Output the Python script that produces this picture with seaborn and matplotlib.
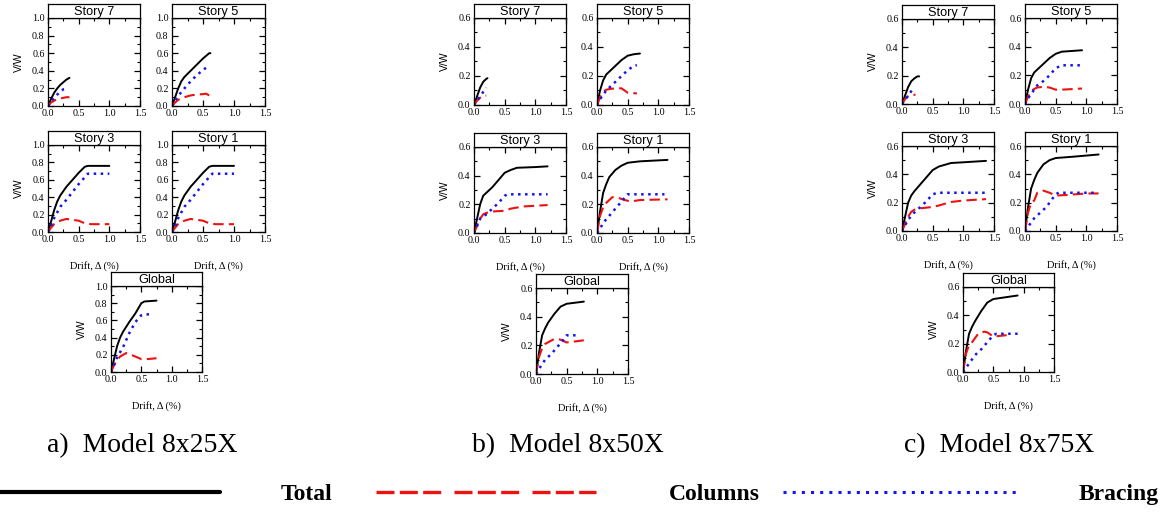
import numpy as np
import pandas as pd
import seaborn as sns
import matplotlib.pyplot as plt
from matplotlib.lines import Line2D
from matplotlib.ticker import MultipleLocator

# ---------------- data: (drift %, V/W) pairs for each response curve ----------------
# Model 8x25X
A7_TOTAL = [(0, 0), (0.05, 0.08), (0.1, 0.15), (0.15, 0.2), (0.2, 0.24), (0.25, 0.27), (0.3, 0.3), (0.35, 0.32)]
A7_COLS = [(0, 0), (0.05, 0.04), (0.1, 0.06), (0.15, 0.08), (0.2, 0.085), (0.3, 0.1), (0.35, 0.1)]
A7_BRAC = [(0, 0), (0.05, 0.05), (0.1, 0.09), (0.15, 0.13), (0.2, 0.16), (0.25, 0.19), (0.3, 0.2)]

A5_TOTAL = [(0, 0), (0.05, 0.1), (0.1, 0.2), (0.15, 0.28), (0.2, 0.33), (0.3, 0.4), (0.4, 0.47), (0.5, 0.54), (0.6, 0.6), (0.62, 0.6)]
A5_COLS = [(0, 0), (0.05, 0.04), (0.1, 0.07), (0.2, 0.1), (0.3, 0.12), (0.4, 0.13), (0.5, 0.135), (0.55, 0.14), (0.6, 0.12)]
A5_BRAC = [(0, 0), (0.05, 0.06), (0.1, 0.11), (0.15, 0.16), (0.2, 0.2), (0.3, 0.28), (0.4, 0.35), (0.5, 0.41), (0.6, 0.46)]

A3_TOTAL = [(0, 0), (0.05, 0.12), (0.1, 0.25), (0.15, 0.35), (0.2, 0.42), (0.3, 0.52), (0.4, 0.6), (0.5, 0.68), (0.6, 0.75), (0.65, 0.76), (1.0, 0.76)]
A3_COLS = [(0, 0), (0.05, 0.05), (0.1, 0.09), (0.2, 0.13), (0.3, 0.15), (0.4, 0.14), (0.5, 0.13), (0.6, 0.1), (0.7, 0.09), (1.0, 0.09)]
A3_BRAC = [(0, 0), (0.05, 0.07), (0.1, 0.16), (0.2, 0.29), (0.3, 0.37), (0.4, 0.46), (0.5, 0.55), (0.6, 0.63), (0.65, 0.67), (1.0, 0.67)]

A1_TOTAL = [(0, 0), (0.05, 0.12), (0.1, 0.25), (0.15, 0.35), (0.2, 0.42), (0.3, 0.52), (0.4, 0.6), (0.5, 0.68), (0.6, 0.75), (0.65, 0.76), (1.0, 0.76)]
A1_COLS = [(0, 0), (0.05, 0.05), (0.1, 0.09), (0.2, 0.13), (0.3, 0.15), (0.4, 0.14), (0.5, 0.13), (0.6, 0.1), (0.7, 0.09), (1.0, 0.09)]
A1_BRAC = [(0, 0), (0.05, 0.07), (0.1, 0.16), (0.2, 0.29), (0.3, 0.37), (0.4, 0.46), (0.5, 0.55), (0.6, 0.63), (0.65, 0.67), (1.0, 0.67)]

AG_TOTAL = [(0, 0), (0.05, 0.15), (0.1, 0.3), (0.15, 0.4), (0.2, 0.47), (0.3, 0.58), (0.4, 0.68), (0.5, 0.8), (0.55, 0.82), (0.75, 0.83)]
AG_COLS = [(0, 0), (0.05, 0.08), (0.1, 0.14), (0.15, 0.18), (0.2, 0.2), (0.25, 0.22), (0.3, 0.21), (0.4, 0.18), (0.5, 0.15), (0.6, 0.15), (0.75, 0.16)]
AG_BRAC = [(0, 0), (0.05, 0.08), (0.1, 0.17), (0.2, 0.29), (0.3, 0.45), (0.4, 0.58), (0.5, 0.66), (0.55, 0.67), (0.7, 0.67)]

# Model 8x50X
B7_TOTAL = [(0, 0), (0.05, 0.06), (0.1, 0.12), (0.15, 0.16), (0.2, 0.18), (0.22, 0.185)]
B7_COLS = [(0, 0), (0.05, 0.03), (0.1, 0.05), (0.15, 0.065), (0.2, 0.065)]
B7_BRAC = [(0, 0), (0.05, 0.03), (0.1, 0.06), (0.15, 0.09), (0.2, 0.12)]

B5_TOTAL = [(0, 0), (0.05, 0.1), (0.1, 0.17), (0.15, 0.21), (0.2, 0.23), (0.3, 0.27), (0.4, 0.31), (0.5, 0.34), (0.6, 0.35), (0.7, 0.355)]
B5_COLS = [(0, 0), (0.05, 0.05), (0.1, 0.09), (0.15, 0.105), (0.2, 0.11), (0.3, 0.115), (0.4, 0.115), (0.5, 0.085), (0.65, 0.08)]
B5_BRAC = [(0, 0), (0.05, 0.04), (0.1, 0.07), (0.15, 0.1), (0.2, 0.12), (0.3, 0.16), (0.4, 0.2), (0.5, 0.24), (0.6, 0.27), (0.65, 0.275)]

B3_TOTAL = [(0, 0), (0.05, 0.1), (0.1, 0.2), (0.15, 0.26), (0.2, 0.28), (0.3, 0.32), (0.4, 0.37), (0.5, 0.42), (0.6, 0.44), (0.7, 0.455), (1.0, 0.46), (1.2, 0.465)]
B3_COLS = [(0, 0), (0.05, 0.05), (0.1, 0.1), (0.15, 0.13), (0.2, 0.14), (0.3, 0.15), (0.5, 0.155), (0.6, 0.17), (0.8, 0.185), (1.0, 0.19), (1.2, 0.195)]
B3_BRAC = [(0, 0), (0.05, 0.05), (0.1, 0.1), (0.2, 0.13), (0.3, 0.17), (0.4, 0.21), (0.5, 0.26), (0.55, 0.27), (1.2, 0.27)]

B1_TOTAL = [(0, 0), (0.05, 0.15), (0.1, 0.28), (0.15, 0.34), (0.2, 0.39), (0.3, 0.44), (0.4, 0.47), (0.5, 0.49), (0.7, 0.5), (1.15, 0.51)]
B1_COLS = [(0, 0), (0.05, 0.12), (0.1, 0.18), (0.15, 0.21), (0.25, 0.25), (0.35, 0.245), (0.45, 0.23), (0.55, 0.22), (0.7, 0.23), (1.15, 0.235)]
B1_BRAC = [(0, 0), (0.05, 0.03), (0.1, 0.07), (0.2, 0.12), (0.3, 0.17), (0.4, 0.22), (0.5, 0.27), (1.1, 0.27)]

BG_TOTAL = [(0, 0), (0.05, 0.15), (0.1, 0.27), (0.15, 0.32), (0.2, 0.36), (0.3, 0.42), (0.4, 0.47), (0.5, 0.49), (0.78, 0.505)]
BG_COLS = [(0, 0), (0.05, 0.12), (0.1, 0.18), (0.15, 0.21), (0.3, 0.245), (0.4, 0.24), (0.5, 0.22), (0.78, 0.235)]
BG_BRAC = [(0, 0), (0.05, 0.035), (0.1, 0.07), (0.15, 0.1), (0.25, 0.14), (0.35, 0.19), (0.45, 0.24), (0.5, 0.27), (0.7, 0.27)]

# Model 8x75X
C7_TOTAL = [(0, 0), (0.05, 0.06), (0.1, 0.12), (0.15, 0.16), (0.2, 0.18), (0.25, 0.195), (0.28, 0.195)]
C7_COLS = [(0, 0), (0.05, 0.035), (0.1, 0.055), (0.15, 0.065), (0.22, 0.065)]
C7_BRAC = [(0, 0), (0.05, 0.03), (0.1, 0.06), (0.15, 0.09), (0.2, 0.12)]

C5_TOTAL = [(0, 0), (0.05, 0.1), (0.1, 0.18), (0.15, 0.22), (0.2, 0.24), (0.3, 0.28), (0.4, 0.32), (0.5, 0.35), (0.6, 0.365), (0.93, 0.375)]
C5_COLS = [(0, 0), (0.05, 0.05), (0.1, 0.09), (0.15, 0.105), (0.2, 0.115), (0.3, 0.12), (0.4, 0.115), (0.5, 0.1), (0.6, 0.1), (0.93, 0.108)]
C5_BRAC = [(0, 0), (0.05, 0.04), (0.1, 0.07), (0.15, 0.1), (0.2, 0.13), (0.3, 0.16), (0.4, 0.2), (0.5, 0.25), (0.6, 0.27), (0.93, 0.27)]

C3_TOTAL = [(0, 0), (0.05, 0.1), (0.1, 0.2), (0.15, 0.25), (0.2, 0.28), (0.3, 0.33), (0.4, 0.38), (0.5, 0.43), (0.6, 0.455), (0.8, 0.48), (1.0, 0.485), (1.37, 0.495)]
C3_COLS = [(0, 0), (0.05, 0.05), (0.1, 0.1), (0.15, 0.135), (0.2, 0.15), (0.3, 0.16), (0.5, 0.17), (0.6, 0.18), (0.8, 0.205), (1.0, 0.215), (1.37, 0.225)]
C3_BRAC = [(0, 0), (0.05, 0.04), (0.1, 0.08), (0.2, 0.13), (0.3, 0.17), (0.4, 0.21), (0.5, 0.26), (0.6, 0.27), (1.35, 0.27)]

C1_TOTAL = [(0, 0), (0.05, 0.17), (0.1, 0.3), (0.15, 0.36), (0.2, 0.41), (0.3, 0.47), (0.4, 0.5), (0.5, 0.515), (0.8, 0.525), (1.2, 0.54)]
C1_COLS = [(0, 0), (0.05, 0.13), (0.1, 0.2), (0.15, 0.215), (0.2, 0.27), (0.3, 0.285), (0.4, 0.27), (0.5, 0.25), (0.7, 0.255), (1.0, 0.265), (1.2, 0.265)]
C1_BRAC = [(0, 0), (0.05, 0.03), (0.1, 0.06), (0.15, 0.09), (0.25, 0.13), (0.35, 0.17), (0.45, 0.23), (0.5, 0.26), (0.55, 0.27), (1.15, 0.27)]

CG_TOTAL = [(0, 0), (0.05, 0.15), (0.1, 0.27), (0.15, 0.32), (0.2, 0.36), (0.3, 0.43), (0.4, 0.49), (0.5, 0.515), (0.9, 0.54)]
CG_COLS = [(0, 0), (0.05, 0.13), (0.1, 0.19), (0.15, 0.21), (0.25, 0.27), (0.35, 0.285), (0.4, 0.28), (0.5, 0.25), (0.72, 0.26)]
CG_BRAC = [(0, 0), (0.05, 0.03), (0.1, 0.06), (0.15, 0.09), (0.2, 0.12), (0.3, 0.16), (0.4, 0.21), (0.5, 0.26), (0.55, 0.27), (0.9, 0.27)]

CAPTIONS = ["a)  Model 8x25X", "b)  Model 8x50X", "c)  Model 8x75X"]
SERIES_NAMES = ["Total", "Columns", "Bracing"]
X_LABEL = "Drift, \u0394 (%)"
Y_LABEL = "V/W"

# ---------------- styling ----------------
sns.set_theme(style="ticks")
plt.rcParams["font.family"] = ["Liberation Serif", "DejaVu Serif"]
plt.rcParams.update({
    "axes.linewidth": 0.9,
    "text.color": "black",
    "axes.labelcolor": "black",
    "xtick.color": "black",
    "ytick.color": "black",
    "axes.edgecolor": "black",
})

W, H = 1167, 514
fig = plt.figure(figsize=(W / 100, H / 100), dpi=100)
fig.patch.set_facecolor("white")

STYLES = {
    "Total": dict(color="black", lw=1.4, linestyle="-"),
    "Columns": dict(color="#ee1111", lw=1.5, linestyle=(0, (5, 2.5))),
    "Bracing": dict(color="#1515ee", lw=1.8, linestyle=(0, (1, 1.8))),
}
STRIP = 14  # height of the title strip, px


def panel(box, title, ymax, curves, xlabel, ylabel):
    l, t, r, b = box
    ax = fig.add_axes([l / W, 1 - b / H, (r - l) / W, (b - t) / H])
    for name, pts in zip(SERIES_NAMES, curves):
        df = pd.DataFrame(pts, columns=["drift", "vw"])
        sns.lineplot(data=df, x="drift", y="vw", ax=ax, sort=False,
                     estimator=None, legend=False, **STYLES[name])
    ax.set_xlim(0, 1.5)
    ax.set_ylim(0, ymax)
    ax.xaxis.set_major_locator(MultipleLocator(0.5))
    ax.xaxis.set_minor_locator(MultipleLocator(0.25))
    ax.yaxis.set_major_locator(MultipleLocator(0.2))
    ax.yaxis.set_minor_locator(MultipleLocator(0.1))
    ax.tick_params(which="both", direction="in", top=True, right=True,
                   labelsize=7.2, pad=2.5, color="black", labelcolor="black")
    ax.tick_params(which="major", length=4, width=0.9)
    ax.tick_params(which="minor", length=2.5, width=0.8)
    for lab in ax.get_xticklabels() + ax.get_yticklabels():
        lab.set_family("Liberation Serif")
    ax.set_xlabel(xlabel, fontsize=7.5, labelpad=12, family="Liberation Serif")
    ax.set_ylabel(ylabel, fontsize=7.5, labelpad=6, family="Liberation Sans")
    for s in ax.spines.values():
        s.set_color("black")

    sax = fig.add_axes([l / W, 1 - t / H, (r - l) / W, STRIP / H])
    sax.set_xticks([])
    sax.set_yticks([])
    for s in sax.spines.values():
        s.set_color("black")
        s.set_linewidth(0.9)
    sax.text(0.5, 0.45, title, ha="center", va="center", fontsize=9.2,
             family="Liberation Sans", transform=sax.transAxes)
    return ax


MODELS = [
    dict(ymax=1.0, caption=CAPTIONS[0], cap_x=47,
         boxes=[(48, 18, 140, 106), (172, 18, 265, 106), (48, 145, 140, 232), (172, 145, 265, 232), (111, 286, 202, 372)],
         curves=[(A7_TOTAL, A7_COLS, A7_BRAC), (A5_TOTAL, A5_COLS, A5_BRAC), (A3_TOTAL, A3_COLS, A3_BRAC),
                 (A1_TOTAL, A1_COLS, A1_BRAC), (AG_TOTAL, AG_COLS, AG_BRAC)]),
    dict(ymax=0.6, caption=CAPTIONS[1], cap_x=472,
         boxes=[(474, 18, 566, 105), (597, 18, 689, 105), (474, 147, 566, 233), (597, 147, 689, 233), (536, 288, 628, 374)],
         curves=[(B7_TOTAL, B7_COLS, B7_BRAC), (B5_TOTAL, B5_COLS, B5_BRAC), (B3_TOTAL, B3_COLS, B3_BRAC),
                 (B1_TOTAL, B1_COLS, B1_BRAC), (BG_TOTAL, BG_COLS, BG_BRAC)]),
    dict(ymax=0.6, caption=CAPTIONS[2], cap_x=904,
         boxes=[(902, 19, 994, 104), (1025, 18, 1117, 104), (902, 146, 994, 231), (1025, 146, 1117, 231), (963, 287, 1054, 372)],
         curves=[(C7_TOTAL, C7_COLS, C7_BRAC), (C5_TOTAL, C5_COLS, C5_BRAC), (C3_TOTAL, C3_COLS, C3_BRAC),
                 (C1_TOTAL, C1_COLS, C1_BRAC), (CG_TOTAL, CG_COLS, CG_BRAC)]),
]
TITLES = ["Story 7", "Story 5", "Story 3", "Story 1", "Global"]
SHOW_X = [False, False, True, True, True]
SHOW_Y = [True, False, True, False, True]

for m in MODELS:
    for box, title, curves, sx, sy in zip(m["boxes"], TITLES, m["curves"], SHOW_X, SHOW_Y):
        panel(box, title, m["ymax"], curves, X_LABEL if sx else "", Y_LABEL if sy else "")
    fig.text(m["cap_x"] / W, 1 - 446 / H, m["caption"], fontsize=20,
             family="Liberation Serif", ha="left", va="center", color="black")

# ---------------- legend row: one key per series, spread across the width ----------------
LEGEND_KEYS = [
    (Line2D([], [], color="black", lw=3.0, linestyle="-"), -0.002, 9.4, 2.6),
    (Line2D([], [], color="#ee1111", lw=2.4, linestyle=(0, (5.4, 1.6, 5.4, 1.6, 5.4, 4.0))), 376 / W, 9.3, 3.1),
    (Line2D([], [], color="#1515ee", lw=2.2, linestyle=(0, (1, 2))), 783 / W, 10.0, 2.5),
]
for (handle, x0, hlen, hpad), name in zip(LEGEND_KEYS, SERIES_NAMES):
    fig.legend([handle], [name], loc="center left", bbox_to_anchor=(x0, 1 - 494 / H),
               frameon=False, handlelength=hlen, handletextpad=hpad,
               borderpad=0, borderaxespad=0,
               prop=dict(family="Liberation Serif", weight="bold", size=17))

fig.savefig("out.png", dpi=100, facecolor="white")
